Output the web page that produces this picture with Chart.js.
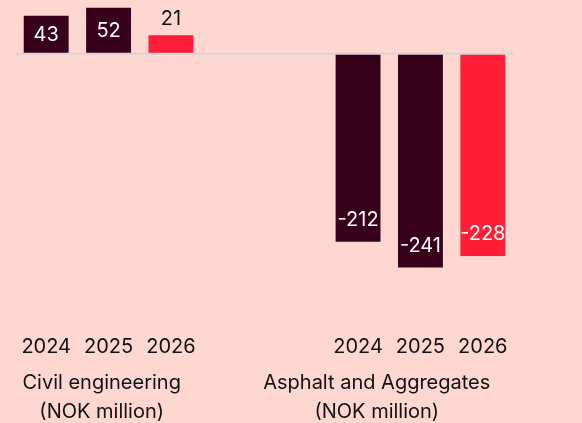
<!DOCTYPE html>
<html>
<head>
<meta charset="utf-8">
<script src="https://cdn.jsdelivr.net/npm/chart.js@4/dist/chart.umd.min.js"></script>
<style>
    html, body { margin: 0; padding: 0; background: #ffd7d1; }
    canvas { display: block; }
</style>
</head>
<body>
<canvas id="resultChart" width="582" height="423"></canvas>
<script>
const years = ['2024', '2025', '2026'];
const civilEngineering = [43, 52, 21];
const asphaltAggregates = [-212, -241, -228];
const groupTitles = [
    ['Civil engineering', '(NOK million)'],
    ['Asphalt and Aggregates', '(NOK million)']
];

const DARK = '#38001a';
const RED = '#ff1d38';
const yearColors = [DARK, DARK, RED];

// two empty slots split the segments
const labels = [...years, '', '', ...years];
const values = [...civilEngineering, null, null, ...asphaltAggregates];
const colors = [...yearColors, 'transparent', 'transparent', ...yearColors];

const FONT = 'Inter, "Liberation Sans", sans-serif';

const zeroLine = {
    id: 'zeroLine',
    afterDatasetsDraw(chart) {
        const { ctx, chartArea, scales } = chart;
        const y = scales.y.getPixelForValue(0);
        ctx.save();
        ctx.strokeStyle = '#d9d3d2';
        ctx.lineWidth = 2;
        ctx.beginPath();
        ctx.moveTo(chartArea.left, y);
        ctx.lineTo(chartArea.right, y);
        ctx.stroke();
        ctx.restore();
    }
};

const valueLabels = {
    id: 'valueLabels',
    afterDatasetsDraw(chart) {
        const { ctx } = chart;
        const meta = chart.getDatasetMeta(0);
        ctx.save();
        ctx.font = '20px ' + FONT;
        ctx.textAlign = 'center';
        ctx.textBaseline = 'middle';
        meta.data.forEach((bar, i) => {
            const v = values[i];
            if (v === null) return;
            const h = Math.abs(bar.base - bar.y);
            let y;
            ctx.fillStyle = '#ffffff';
            if (v < 0) {
                y = bar.y - 22;
            } else if (h > 30) {
                y = (bar.y + bar.base) / 2;
            } else {
                y = bar.y - 16;
                ctx.fillStyle = '#111111';
            }
            ctx.fillText(String(v), bar.x, y);
        });
        ctx.restore();
    }
};

const groupLabels = {
    id: 'groupLabels',
    afterDraw(chart, args, opts) {
        const { ctx, scales } = chart;
        ctx.save();
        ctx.font = '20px ' + FONT;
        ctx.fillStyle = '#111111';
        ctx.textAlign = 'center';
        ctx.textBaseline = 'alphabetic';
        groupTitles.forEach((lines, g) => {
            const x = scales.x.getPixelForValue(opts.at[g]);
            lines.forEach((line, j) => {
                ctx.fillText(line, x, scales.x.bottom + opts.firstLine + j * opts.lineGap);
            });
        });
        ctx.restore();
    }
};

document.addEventListener('DOMContentLoaded', function() {
    const ctx = document.getElementById('resultChart').getContext('2d');
    new Chart(ctx, {
        type: 'bar',
        data: {
            labels: labels,
            datasets: [{
                data: values,
                backgroundColor: colors,
                borderWidth: 0
            }]
        },
        options: {
            responsive: false,
            animation: false,
            devicePixelRatio: 1,
            layout: {
                padding: { left: 15, right: 68, top: 0, bottom: 56 }
            },
            plugins: {
                legend: { display: false },
                tooltip: { enabled: false },
                groupLabels: { at: [0.89, 5.3], firstLine: 22, lineGap: 29 }
            },
            scales: {
                x: {
                    grid: { display: false, drawTicks: false },
                    border: { display: false },
                    ticks: {
                        color: '#111111',
                        padding: 8,
                        maxRotation: 0,
                        autoSkip: false,
                        font: { family: FONT, size: 20 }
                    }
                },
                y: {
                    display: false,
                    min: -308,
                    max: 60.7
                }
            }
        },
        plugins: [zeroLine, valueLabels, groupLabels]
    });
});
</script>
</body>
</html>
